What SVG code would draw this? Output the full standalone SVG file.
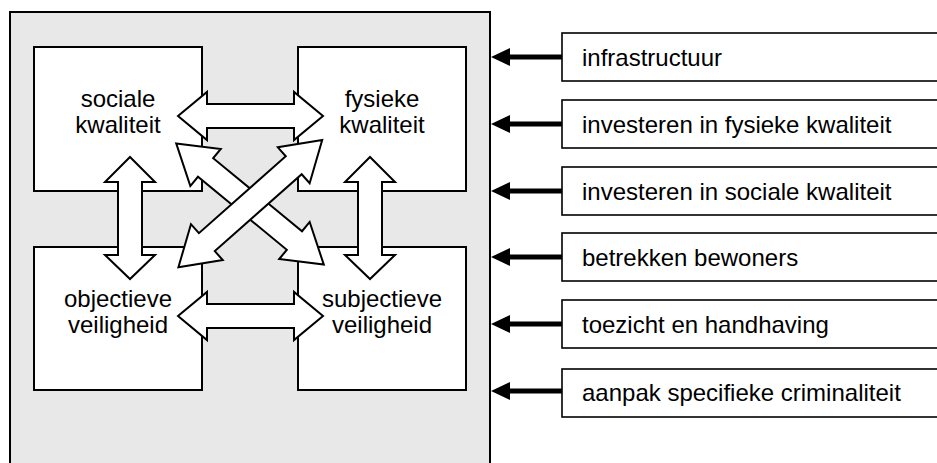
<svg xmlns="http://www.w3.org/2000/svg" width="937" height="463" viewBox="0 0 937 463">
<style>
  .frame { fill: #e8e8e8; stroke: #000; stroke-width: 2; }
  .box { fill: #fff; stroke: #000; stroke-width: 2; }
  .rbox { fill: #fff; stroke: #000; stroke-width: 1.6; }
  .dbl { fill: #fff; stroke: #000; stroke-width: 2; stroke-linejoin: miter; }
  .lbl { font-family: "Liberation Sans", Arial, Helvetica, sans-serif; font-size: 24px; fill: #000; }
  .c { text-anchor: middle; }
  .feed { stroke: #000; stroke-width: 5; fill: none; marker-end: url(#head); }
</style>
<defs>
  <marker id="head" viewBox="0 0 19 18" refX="3" refY="9" markerWidth="19" markerHeight="18" markerUnits="userSpaceOnUse" orient="auto">
    <path d="M0,0 L19,9 L0,18 Z" fill="#000"/>
  </marker>
</defs>

<rect id="frame" class="frame" x="10" y="12" width="480" height="470"/>

<g id="node-sociale">
  <rect class="box" x="34" y="47" width="168" height="144"/>
  <text class="lbl c" x="118" y="107">sociale</text>
  <text class="lbl c" x="118" y="133">kwaliteit</text>
</g>
<g id="node-fysieke">
  <rect class="box" x="298" y="47" width="168" height="144"/>
  <text class="lbl c" x="382" y="107">fysieke</text>
  <text class="lbl c" x="382" y="133">kwaliteit</text>
</g>
<g id="node-objectieve">
  <rect class="box" x="34" y="247" width="168" height="143"/>
  <text class="lbl c" x="118" y="307">objectieve</text>
  <text class="lbl c" x="118" y="333">veiligheid</text>
</g>
<g id="node-subjectieve">
  <rect class="box" x="298" y="247" width="168" height="143"/>
  <text class="lbl c" x="382" y="307">subjectieve</text>
  <text class="lbl c" x="382" y="333">veiligheid</text>
</g>

<g id="node-infrastructuur">
  <rect class="rbox" x="562" y="33" width="400" height="48"/>
  <text class="lbl" x="582" y="66">infrastructuur</text>
</g>
<g id="node-fysiek-invest">
  <rect class="rbox" x="562" y="100" width="400" height="48"/>
  <text class="lbl" x="582" y="133">investeren in fysieke kwaliteit</text>
</g>
<g id="node-sociaal-invest">
  <rect class="rbox" x="562" y="167" width="400" height="48"/>
  <text class="lbl" x="582" y="200">investeren in sociale kwaliteit</text>
</g>
<g id="node-bewoners">
  <rect class="rbox" x="562" y="233" width="400" height="48"/>
  <text class="lbl" x="582" y="266">betrekken bewoners</text>
</g>
<g id="node-toezicht">
  <rect class="rbox" x="562" y="300" width="400" height="48"/>
  <text class="lbl" x="582" y="333">toezicht en handhaving</text>
</g>
<g id="node-criminaliteit">
  <rect class="rbox" x="562" y="369" width="400" height="48"/>
  <text class="lbl" x="582" y="401">aanpak specifieke criminaliteit</text>
</g>

<g id="connectors">
  <polygon class="dbl" points="178,116 207,92 207,104 294,104 294,92 323,116 294,140 294,128 207,128 207,140"/>
  <polygon class="dbl" points="178,316 207,292 207,304 294,304 294,292 323,316 294,340 294,328 207,328 207,340"/>
  <polygon class="dbl" points="130,157 155,182 142,182 142,255 155,255 130,279 105,255 118,255 118,182 105,182"/>
  <polygon class="dbl" points="370,157 395,182 382,182 382,255 395,255 370,279 345,255 358,255 358,182 345,182"/>
  <path class="dbl" transform="translate(250,204) rotate(39.4)" d="M-95.5,0 L-57.5,-24 L-57.5,-12 L57.5,-12 L57.5,-24 L95.5,0 L57.5,24 L57.5,12 L-57.5,12 L-57.5,24 Z"/>
  <path class="dbl" transform="translate(250.3,203.7) rotate(-41.5)" d="M-96,0 L-58,-24 L-58,-12 L58,-12 L58,-24 L96,0 L58,24 L58,12 L-58,12 L-58,24 Z"/>

  <line class="feed" x1="562" y1="57" x2="507" y2="57"/>
  <line class="feed" x1="562" y1="124" x2="507" y2="124"/>
  <line class="feed" x1="562" y1="191" x2="507" y2="191"/>
  <line class="feed" x1="562" y1="257" x2="507" y2="257"/>
  <line class="feed" x1="562" y1="324" x2="507" y2="324"/>
  <line class="feed" x1="562" y1="391" x2="507" y2="391"/>
</g>
</svg>
